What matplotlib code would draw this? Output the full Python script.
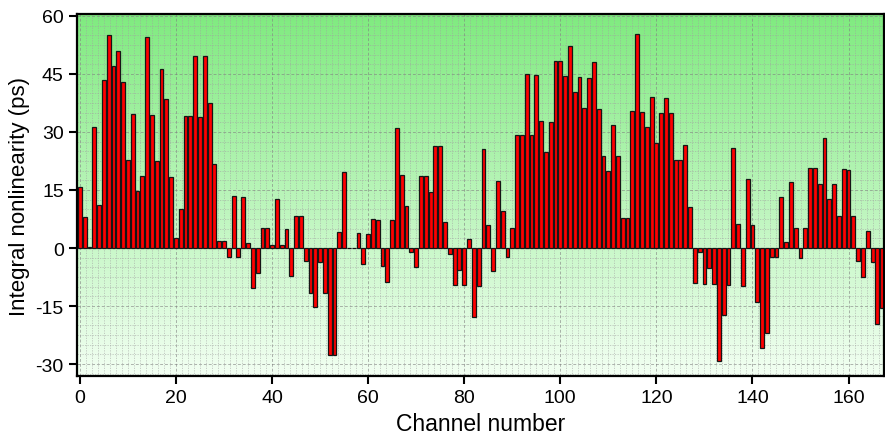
import numpy as np
import matplotlib.pyplot as plt
from matplotlib.ticker import MultipleLocator

plt.rcParams['font.family'] = ['Liberation Sans', 'DejaVu Sans']
plt.rcParams['axes.unicode_minus'] = False

channel = np.arange(168)
inl = [15.7, 7.9, 0.2, 31.4, 11.2, 43.3, 55.1, 47.0, 51.0, 42.9,
       22.8, 34.7, 14.7, 18.7, 54.5, 34.4, 22.5, 46.3, 38.4, 18.3,
       2.5, 10.1, 34.0, 34.0, 49.7, 33.8, 49.6, 37.5, 21.6, 1.9,
       1.9, -2.2, 13.4, -2.2, 13.1, 1.3, -10.4, -6.5, 5.2, 5.1,
       0.9, 12.7, 0.8, 4.8, -7.2, 8.4, 8.4, -3.4, -11.5, -15.3,
       -3.5, -11.5, -27.6, -27.6, 4.1, 19.7, 0.0, 0.0, 3.9, -4.1,
       3.6, 7.5, 7.3, -4.6, -8.7, 7.3, 30.9, 18.9, 10.8, -0.9,
       -5.0, 18.5, 18.5, 14.6, 26.3, 26.3, 6.6, -1.5, -9.6, -5.6,
       -9.6, 2.3, -17.7, -9.7, 25.6, 5.9, -6.0, 17.3, 9.6, -2.2,
       5.3, 29.1, 29.1, 44.9, 29.1, 44.7, 32.7, 24.7, 32.5, 48.4,
       48.4, 44.4, 52.3, 40.3, 44.1, 36.1, 44.0, 48.0, 35.9, 23.9,
       19.9, 31.8, 23.7, 7.8, 7.8, 35.3, 55.3, 35.1, 31.2, 39.1,
       27.1, 34.9, 38.9, 34.9, 22.8, 22.8, 26.6, 10.6, -9.1, -1.1,
       -9.2, -5.2, -9.3, -29.3, -17.3, -9.6, 25.9, 6.1, -9.7, 17.8,
       6.0, -13.9, -25.9, -21.9, -2.2, -2.2, 13.1, 1.5, 17.0, 5.3,
       -2.7, 5.1, 20.6, 20.6, 16.6, 28.4, 12.6, 16.5, 8.4, 20.3,
       20.2, 8.2, -3.4, -7.4, 4.3, -3.7, -19.7, -15.6]

fig = plt.figure(figsize=(8.85, 4.39), dpi=100)
ax = fig.add_axes([0.087, 0.141, 0.912, 0.825])

# green gradient background, strong at top, fading to near white
top = np.array([0.50, 0.92, 0.50])
bot = np.array([0.95, 1.00, 0.95])
t = np.linspace(0, 1, 256)[:, None]
grad = (top * (1 - t) + bot * t)[:, None, :]
ax.imshow(grad, extent=[0, 1, 0, 1], transform=ax.transAxes,
          aspect='auto', zorder=0, interpolation='bilinear')

ax.bar(channel, inl, width=0.8, color='#ff0000', edgecolor='#151515',
       linewidth=0.9, zorder=3)

ax.set_xlim(-0.6, 167.4)
ax.set_ylim(-33.1, 60.5)
ax.xaxis.set_major_locator(MultipleLocator(20))
ax.yaxis.set_major_locator(MultipleLocator(15))
ax.xaxis.set_minor_locator(MultipleLocator(1.25))
ax.yaxis.set_minor_locator(MultipleLocator(2.5))
ax.grid(which='major', color='#808080', linestyle=(0, (3, 2)), linewidth=0.7, alpha=0.6, zorder=1)
ax.grid(which='minor', color='#a0a0a0', linestyle=(0, (1.5, 1.5)), linewidth=0.6, alpha=0.6, zorder=1)
ax.set_axisbelow(True)

ax.tick_params(which='major', direction='out', length=6, width=1.5, labelsize=14)
ax.tick_params(which='minor', length=0)
for s in ax.spines.values():
    s.set_linewidth(1.6)
    s.set_zorder(5)

ax.set_xlabel('Channel number', fontsize=16.5, labelpad=4)
ax.set_ylabel('Integral nonlinearity (ps)', fontsize=16, labelpad=4)

fig.savefig('out.png', dpi=100)
